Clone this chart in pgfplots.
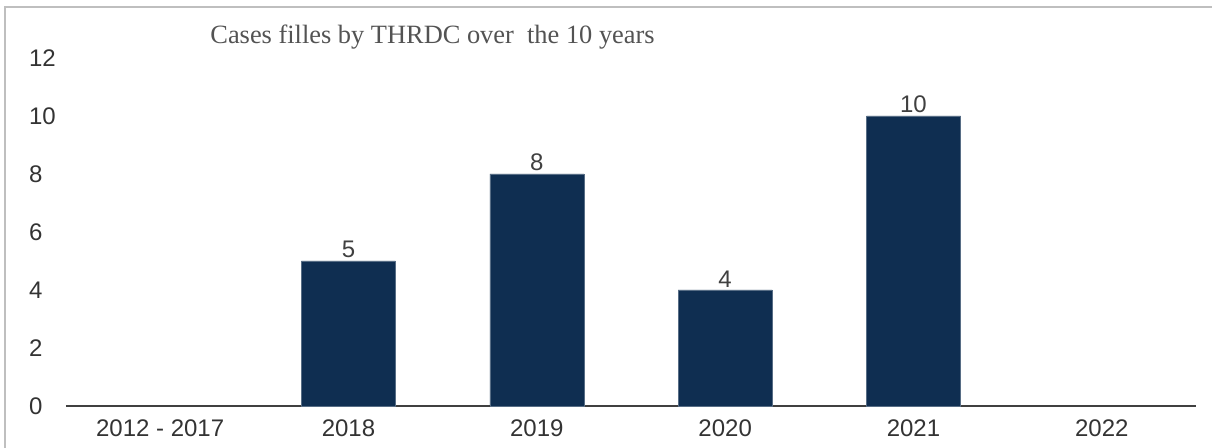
\documentclass[border=0pt]{standalone}
\usepackage{pgfplots}
\pgfplotsset{compat=1.18}
\usetikzlibrary{calc}
\usepackage{fontspec}
\setmainfont{Liberation Sans}
\newfontfamily\serifttl{Liberation Serif}
\definecolor{barblue}{HTML}{0F2E51}
\definecolor{txtgray}{HTML}{404040}
\definecolor{framegray}{HTML}{BFBFBF}
\begin{document}
\begin{tikzpicture}[x=1pt,y=1pt]
\begin{axis}[
  name=ax,
  scale only axis,
  width=565pt, height=174pt,
  xmin=-0.5, xmax=5.5,
  ymin=0, ymax=12,
  ytick={0,2,...,12},
  xtick={0,1,2,3,4,5},
  xticklabels={2012 - 2017,2018,2019,2020,2021,2022},
  axis x line*=bottom,
  axis y line*=left,
  y axis line style={draw=none},
  x axis line style={draw=black!75, line width=0.7pt, -},
  xtick style={draw=none},
  ytick style={draw=none},
  tick label style={font=\fontsize{12}{13}\selectfont, text=txtgray!80!black},
  xticklabel style={yshift=1pt},
  yticklabel style={anchor=west, xshift=-22pt},
  /pgf/number format/assume math mode=true,
  ybar, bar width=47pt,
  bar shift=0pt,
  nodes near coords,
  every node near coord/.append style={font=\fontsize{12}{13}\selectfont, text=txtgray, yshift=-2pt},
  clip=false,
]
\addplot[fill=barblue, draw=barblue!70!white, line width=0.3pt] coordinates {(1,5) (2,8) (3,4) (4,10)};
\end{axis}
\path[use as bounding box] ($(ax.south west)+(-33pt,-21pt)$) rectangle ($(ax.north east)+(8pt,29pt)$);
\node[font=\serifttl\fontsize{13.2}{15}\selectfont, text=txtgray!90!white, anchor=base west, inner sep=0pt] at ($(ax.north west)+(72pt,7pt)$) {Cases filles by THRDC over\ \ the 10 years};
\draw[framegray, line width=0.6pt] ($(ax.south west)+(-30.5pt,-21pt)$) -- ($(ax.north west)+(-30.5pt,25.5pt)$) -- ($(ax.north east)+(8pt,25.5pt)$);
\end{tikzpicture}
\end{document}
